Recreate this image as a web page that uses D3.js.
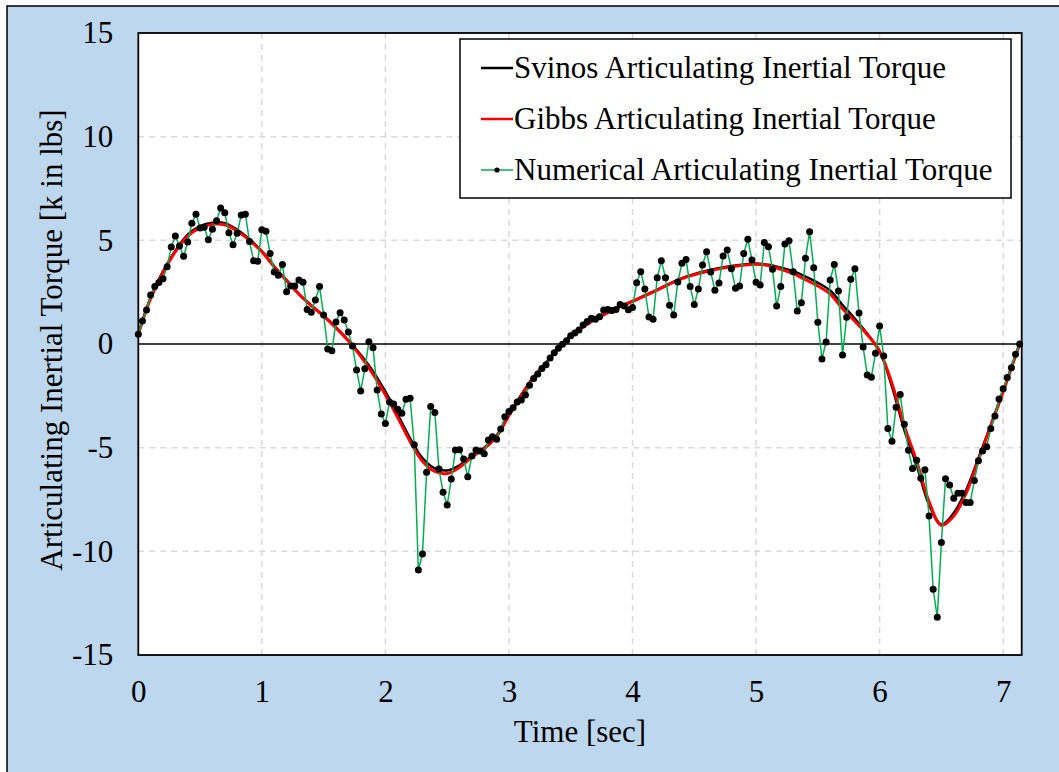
<!DOCTYPE html>
<html>
<head>
<meta charset="utf-8">
<script src="https://cdn.jsdelivr.net/npm/d3@7"></script>
<style>
  html, body { margin: 0; padding: 0; background: #ffffff; }
  svg { display: block; }
  text { font-family: "Liberation Serif", "Times New Roman", serif; fill: #000; }
</style>
</head>
<body>
<svg id="chart" width="1059" height="772"></svg>
<script>
// ---------- data ----------
const xTicks = [0, 1, 2, 3, 4, 5, 6, 7];
const yTicks = [-15, -10, -5, 0, 5, 10, 15];
const seriesNames = [
  "Svinos Articulating Inertial Torque",
  "Gibbs Articulating Inertial Torque",
  "Numerical Articulating Inertial Torque"
];
const xLabel = "Time [sec]";
const yLabel = "Articulating Inertial Torque [k in lbs]";

// numerical solution: sampled every 1/30 sec starting at t = 0
const numericalStart = 0;
const numericalStep = 1 / 30;
const numericalValues = [
  0.47, 1.11, 1.64, 2.36, 2.77, 2.97, 3.15, 3.73, 4.68, 5.21,
  4.73, 4.23, 4.92, 5.82, 6.26, 5.6, 5.63, 5.03, 5.53, 5.95,
  6.56, 6.33, 5.37, 4.79, 5.34, 6.22, 6.26, 4.94, 4.02, 3.99,
  5.51, 5.44, 4.37, 3.47, 3.31, 3.83, 2.52, 2.8, 2.8, 3.09,
  2.98, 1.67, 1.53, 2.12, 2.77, 1.40, -0.24, -0.32, 1.06, 1.51,
  1.16, 0.58, -0.1, -1.25, -2.27, -1.19, 0.11, -0.18, -2.22, -3.38,
  -3.83, -2.8, -2.89, -3.15, -3.34, -2.67, -2.62, -4.86, -10.9, -10.13,
  -6.19, -3.02, -3.3, -6.03, -7.15, -7.77, -6.51, -5.11, -5.1, -5.55,
  -6.4, -5.4, -5.11, -5.16, -5.29, -4.63, -4.47, -4.6, -4.1, -3.51,
  -3.26, -3.07, -2.8, -2.7, -2.46, -1.99, -1.66, -1.45, -1.18, -1.0,
  -0.67, -0.42, -0.21, -0.01, 0.16, 0.4, 0.53, 0.68, 0.92, 1.09,
  1.24, 1.19, 1.32, 1.64, 1.67, 1.62, 1.67, 1.91, 1.83, 1.65,
  1.76, 2.95, 3.49, 2.65, 1.3, 1.19, 3.2, 4.02, 3.2, 1.87,
  1.4, 2.99, 3.89, 4.07, 2.77, 1.9, 2.65, 3.81, 4.45, 3.47,
  2.59, 2.94, 4.25, 4.53, 3.63, 2.69, 2.8, 4.36, 5.05, 4.05,
  2.98, 2.85, 4.89, 4.69, 3.6, 1.83, 2.77, 4.82, 4.98, 3.49,
  1.59, 1.99, 4.13, 5.42, 3.68, 1.05, -0.72, 0.1, 3.09, 3.84,
  2.56, -0.53, 1.29, 3.12, 3.63, 1.5, -0.15, -1.5, -1.6, -0.45,
  0.87, -0.58, -4.08, -4.69, -3.05, -2.44, -3.87, -5.13, -6.0, -5.61,
  -6.48, -6.06, -8.3, -11.83, -13.18, -9.57, -6.5, -6.8, -7.44, -7.2,
  -7.2, -7.64, -7.64, -6.58, -5.63, -5.16, -4.95, -4.07, -3.47, -2.65,
  -2.16, -1.62, -1.14, -0.5, 0.0
];

// analytical curves
const smoothTimes = [
  0, 0.1, 0.2, 0.3, 0.4, 0.5, 0.6, 0.7, 0.8, 0.9,
  1.0, 1.1, 1.2, 1.3, 1.4, 1.5, 1.6, 1.7, 1.8, 1.9,
  2.0, 2.1, 2.2, 2.3, 2.4, 2.5, 2.6, 2.7, 2.8, 2.9,
  3.0, 3.1, 3.2, 3.3, 3.4, 3.5, 3.6, 3.7, 3.8, 3.9,
  4.0, 4.2, 4.4, 4.6, 4.8, 5.0, 5.1, 5.2, 5.3, 5.4,
  5.5, 5.6, 5.7, 5.8, 5.9, 6.0, 6.1, 6.2, 6.3, 6.4,
  6.5, 6.6, 6.7, 6.8, 6.9, 7.0, 7.133
];
const gibbsValues = [
  0.47, 2.2, 3.45, 4.45, 5.2, 5.6, 5.77, 5.75, 5.45, 5.0,
  4.45, 3.72, 3.05, 2.4, 1.85, 1.35, 0.78, 0.15, -0.6, -1.45,
  -2.45, -3.55, -4.7, -5.65, -6.15, -6.25, -5.95, -5.45, -5.05, -4.47,
  -3.45, -2.5, -1.6, -0.93, -0.2, 0.4, 0.82, 1.2, 1.5, 1.8,
  2.05, 2.6, 3.15, 3.5, 3.72, 3.85, 3.78, 3.6, 3.4, 3.1,
  2.8, 2.4, 1.7, 1.1, 0.45, -0.35, -1.9, -3.95, -5.65, -7.6,
  -8.75, -8.3, -7.2, -5.6, -3.95, -2.3, 0.0
];
const svinosValues = [
  0.47, 2.25, 3.5, 4.5, 5.27, 5.68, 5.85, 5.83, 5.52, 5.05,
  4.48, 3.75, 3.08, 2.42, 1.86, 1.36, 0.8, 0.18, -0.52, -1.32,
  -2.3, -3.4, -4.55, -5.5, -6.0, -6.1, -5.85, -5.4, -5.0, -4.42,
  -3.4, -2.45, -1.58, -0.9, -0.18, 0.42, 0.84, 1.22, 1.52, 1.82,
  2.07, 2.62, 3.17, 3.53, 3.76, 3.88, 3.82, 3.68, 3.52, 3.25,
  2.95, 2.58, 1.88, 1.22, 0.5, -0.35, -2.05, -4.15, -5.85, -7.75,
  -8.7, -8.15, -7.05, -5.5, -3.9, -2.25, 0.0
];

// ---------- layout ----------
const svg = d3.select("#chart");
const plot = { left: 138.3, right: 1021.7, top: 33, bottom: 655 };
const x = d3.scaleLinear().domain([0, 7.15]).range([plot.left, plot.right]);
const y = d3.scaleLinear().domain([-15, 15]).range([plot.bottom, plot.top]);
const FONT = 31;

// outer chart area
svg.append("rect")
  .attr("x", 7).attr("y", 6).attr("width", 1100).attr("height", 820)
  .attr("fill", "#BDD7EE").attr("stroke", "#000").attr("stroke-width", 1.5);

// plot area
svg.append("rect")
  .attr("x", plot.left).attr("y", plot.top)
  .attr("width", plot.right - plot.left).attr("height", plot.bottom - plot.top)
  .attr("fill", "#ffffff");

// gridlines
const grid = svg.append("g");
grid.selectAll("line.vx").data(xTicks.filter(d => d > 0)).join("line")
  .attr("x1", d => x(d)).attr("x2", d => x(d))
  .attr("y1", plot.top).attr("y2", plot.bottom)
  .attr("stroke", "#D9D9D9").attr("stroke-width", 1.5).attr("stroke-dasharray", "6,5");
grid.selectAll("line.hy").data(yTicks.filter(d => d !== 0 && d !== 15 && d !== -15)).join("line")
  .attr("x1", plot.left).attr("x2", plot.right)
  .attr("y1", d => y(d)).attr("y2", d => y(d))
  .attr("stroke", "#D9D9D9").attr("stroke-width", 1.5).attr("stroke-dasharray", "6,5");

// zero line
svg.append("line")
  .attr("x1", plot.left).attr("x2", plot.right)
  .attr("y1", y(0)).attr("y2", y(0))
  .attr("stroke", "#000").attr("stroke-width", 1.5);

// axes (labels only)
const xAxis = d3.axisBottom(x).tickValues(xTicks).tickSize(0).tickPadding(25)
  .tickFormat(d => String(d));
const yAxis = d3.axisLeft(y).tickValues(yTicks).tickSize(0).tickPadding(25)
  .tickFormat(d => String(d));
const gx = svg.append("g").attr("transform", `translate(0,${plot.bottom})`).call(xAxis);
const gy = svg.append("g").attr("transform", `translate(${plot.left},0)`).call(yAxis);
[gx, gy].forEach(g => {
  g.select(".domain").remove();
  g.selectAll("text")
    .attr("font-family", "'Liberation Serif', 'Times New Roman', serif")
    .attr("font-size", FONT).attr("fill", "#000");
});

// series
const smoothData = (vals) => smoothTimes.map((t, i) => ({ t, v: vals[i] }));
const numData = numericalValues.map((v, i) => ({ t: numericalStart + i * numericalStep, v }));

const smoothLine = d3.line().x(d => x(d.t)).y(d => y(d.v)).curve(d3.curveCatmullRom.alpha(0.5));
const straightLine = d3.line().x(d => x(d.t)).y(d => y(d.v));

const series = svg.append("g");
series.append("path").datum(smoothData(svinosValues))
  .attr("d", smoothLine).attr("fill", "none")
  .attr("stroke", "#000").attr("stroke-width", 2.5);
series.append("path").datum(smoothData(gibbsValues))
  .attr("d", smoothLine).attr("fill", "none")
  .attr("stroke", "#FF0000").attr("stroke-width", 3);
series.append("path").datum(numData)
  .attr("d", straightLine).attr("fill", "none")
  .attr("stroke", "#00B050").attr("stroke-width", 1.5);
series.selectAll("circle").data(numData).join("circle")
  .attr("cx", d => x(d.t)).attr("cy", d => y(d.v)).attr("r", 3.5)
  .attr("fill", "#000");

// plot border
svg.append("rect")
  .attr("x", plot.left).attr("y", plot.top)
  .attr("width", plot.right - plot.left).attr("height", plot.bottom - plot.top)
  .attr("fill", "none").attr("stroke", "#000").attr("stroke-width", 1.8);

// axis titles
svg.append("text")
  .attr("x", (plot.left + plot.right) / 2).attr("y", 742)
  .attr("text-anchor", "middle").attr("font-size", FONT)
  .text(xLabel);
svg.append("text")
  .attr("transform", `translate(62,${(plot.top + plot.bottom) / 2 - 4}) rotate(-90)`)
  .attr("text-anchor", "middle").attr("font-size", FONT)
  .text(yLabel);

// legend
const legend = svg.append("g");
legend.append("rect")
  .attr("x", 460).attr("y", 39).attr("width", 551).attr("height", 159)
  .attr("fill", "#fff").attr("stroke", "#000").attr("stroke-width", 1.5);
const legendColors = ["#000", "#FF0000", "#00B050"];
const legendRows = [68, 119, 170];
seriesNames.forEach((name, i) => {
  const cy = legendRows[i];
  legend.append("line")
    .attr("x1", 481).attr("x2", 513).attr("y1", cy).attr("y2", cy)
    .attr("stroke", legendColors[i]).attr("stroke-width", i === 2 ? 1.5 : 2.5);
  if (i === 2) {
    legend.append("circle").attr("cx", 497).attr("cy", cy).attr("r", 2.6).attr("fill", "#000");
  }
  legend.append("text")
    .attr("x", 514).attr("y", cy + 10)
    .attr("font-size", FONT)
    .text(name);
});
</script>
</body>
</html>
